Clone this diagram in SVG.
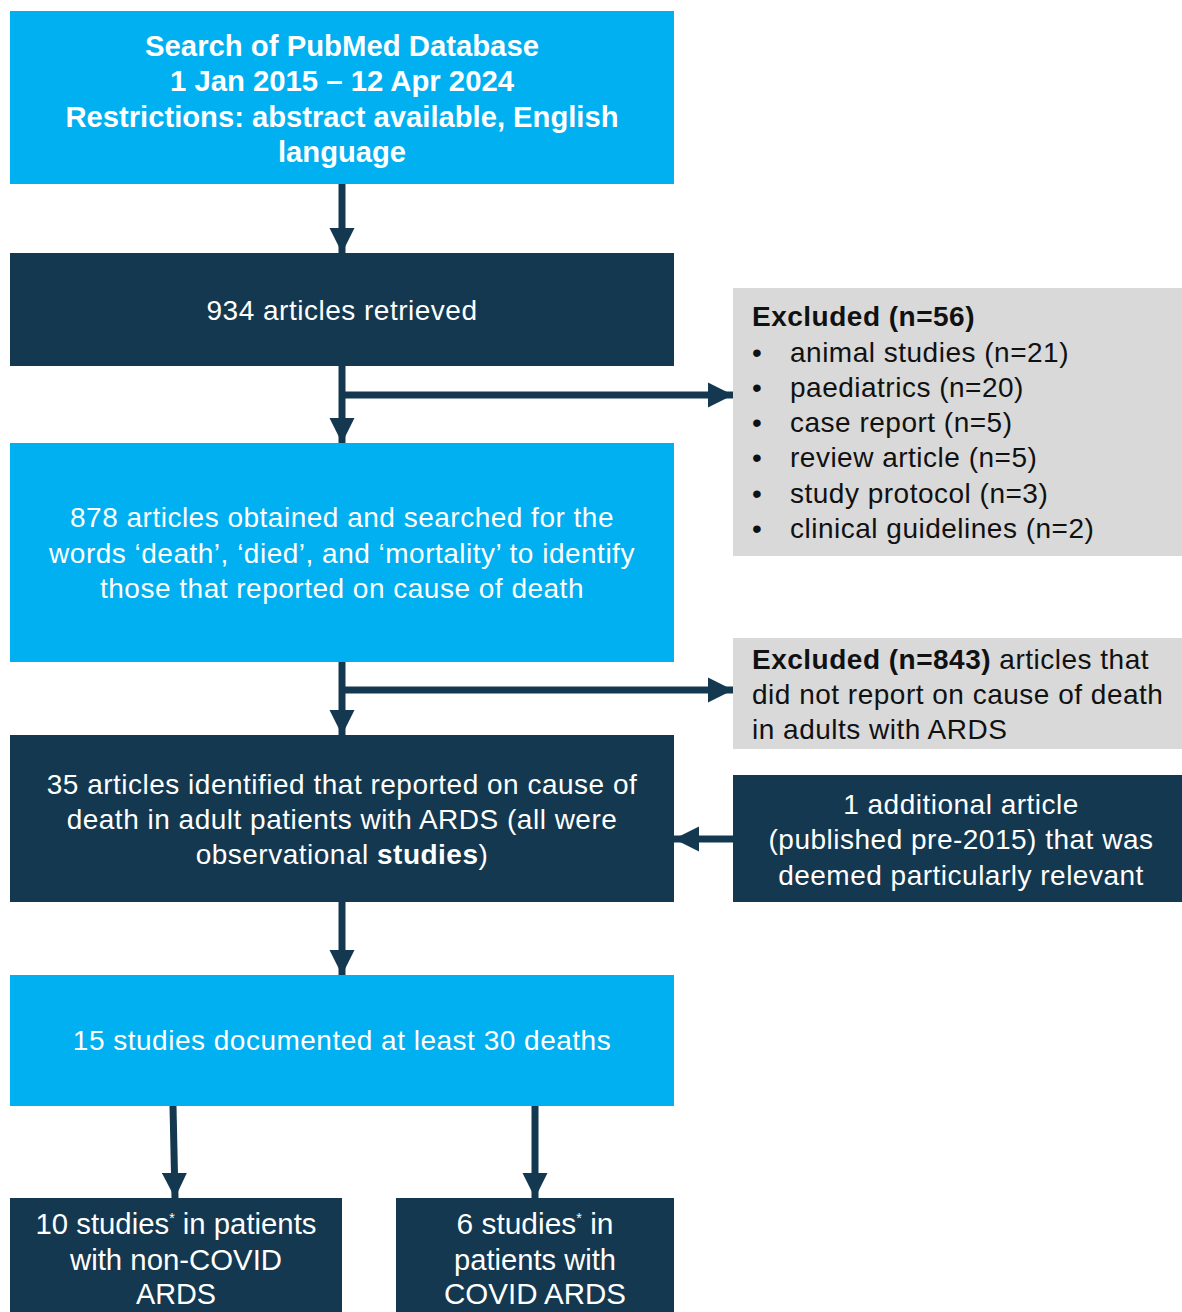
<svg xmlns="http://www.w3.org/2000/svg" width="1182" height="1312" viewBox="0 0 1182 1312">
<style>
.light{fill:#00B0F0}
.dark{fill:#13384F}
.gray{fill:#D9D9D9}
.tw{fill:#ffffff;font-family:"Liberation Sans",Arial,sans-serif;font-size:28px;letter-spacing:0.5px;text-anchor:middle}
.tn{fill:#ffffff;font-family:"Liberation Sans Narrow","Liberation Sans",Arial,sans-serif;font-size:29px;text-anchor:middle}
.tnb{fill:#ffffff;font-family:"Liberation Sans Narrow","Liberation Sans",Arial,sans-serif;font-size:29px;font-weight:bold;text-anchor:middle}
.tk{fill:#111111;font-family:"Liberation Sans",Arial,sans-serif;font-size:28px;letter-spacing:0.5px}
.b{font-weight:bold}
.conn{stroke:#13384F;stroke-width:7;fill:none}
</style>
<defs>
<marker id="ah" viewBox="0 0 10 10" refX="10" refY="5" markerWidth="3.6" markerHeight="3.6" orient="auto" markerUnits="strokeWidth">
<path d="M0,0 L10,5 L0,10 Z" fill="#13384F"/>
</marker>
</defs>

<g id="connectors">
<line class="conn" x1="342" y1="184" x2="342" y2="253" marker-end="url(#ah)"/>
<line class="conn" x1="342" y1="366" x2="342" y2="443" marker-end="url(#ah)"/>
<line class="conn" x1="339" y1="395" x2="733" y2="395" marker-end="url(#ah)"/>
<line class="conn" x1="342" y1="662" x2="342" y2="735" marker-end="url(#ah)"/>
<line class="conn" x1="339" y1="690" x2="733" y2="690" marker-end="url(#ah)"/>
<line class="conn" x1="733" y1="839" x2="674" y2="839" marker-end="url(#ah)"/>
<line class="conn" x1="342" y1="902" x2="342" y2="975" marker-end="url(#ah)"/>
<line class="conn" x1="173" y1="1106" x2="175" y2="1198" marker-end="url(#ah)"/>
<line class="conn" x1="535" y1="1106" x2="535" y2="1198" marker-end="url(#ah)"/>
</g>

<g id="search">
<rect class="light" x="10" y="11" width="664" height="173"/>
<text class="tnb" x="342" y="56" textLength="394" lengthAdjust="spacingAndGlyphs">Search of PubMed Database</text>
<text class="tnb" x="342" y="91" textLength="344" lengthAdjust="spacingAndGlyphs">1 Jan 2015 – 12 Apr 2024</text>
<text class="tnb" x="342" y="127" textLength="553" lengthAdjust="spacingAndGlyphs">Restrictions: abstract available, English</text>
<text class="tnb" x="342" y="162" textLength="128" lengthAdjust="spacingAndGlyphs">language</text>
</g>

<g id="retrieved">
<rect class="dark" x="10" y="253" width="664" height="113"/>
<text class="tw" x="342" y="320">934 articles retrieved</text>
</g>

<g id="excluded56">
<rect class="gray" x="733" y="288" width="449" height="268"/>
<text class="tk b" x="752" y="326">Excluded (n=56)</text>
<text class="tk"><tspan x="752" y="362">•</tspan><tspan x="790" y="362">animal studies (n=21)</tspan></text>
<text class="tk"><tspan x="752" y="397">•</tspan><tspan x="790" y="397">paediatrics (n=20)</tspan></text>
<text class="tk"><tspan x="752" y="432">•</tspan><tspan x="790" y="432">case report (n=5)</tspan></text>
<text class="tk"><tspan x="752" y="467">•</tspan><tspan x="790" y="467">review article (n=5)</tspan></text>
<text class="tk"><tspan x="752" y="503">•</tspan><tspan x="790" y="503">study protocol (n=3)</tspan></text>
<text class="tk"><tspan x="752" y="538">•</tspan><tspan x="790" y="538">clinical guidelines (n=2)</tspan></text>
</g>

<g id="obtained">
<rect class="light" x="10" y="443" width="664" height="219"/>
<text class="tw" x="342" y="527">878 articles obtained and searched for the</text>
<text class="tw" x="342" y="563">words ‘death’, ‘died’, and ‘mortality’ to identify</text>
<text class="tw" x="342" y="598">those that reported on cause of death</text>
</g>

<g id="excluded843">
<rect class="gray" x="733" y="638" width="449" height="111"/>
<text class="tk" x="752" y="669"><tspan class="b">Excluded (n=843)</tspan> articles that</text>
<text class="tk" x="752" y="704">did not report on cause of death</text>
<text class="tk" x="752" y="739">in adults with ARDS</text>
</g>

<g id="identified">
<rect class="dark" x="10" y="735" width="664" height="167"/>
<text class="tw" x="342" y="794">35 articles identified that reported on cause of</text>
<text class="tw" x="342" y="829">death in adult patients with ARDS (all were</text>
<text class="tw" x="342" y="864">observational <tspan class="b">studies</tspan>)</text>
</g>

<g id="additional">
<rect class="dark" x="733" y="775" width="449" height="127"/>
<text class="tw" x="961" y="814">1 additional article</text>
<text class="tw" x="961" y="849">(published pre-2015) that was</text>
<text class="tw" x="961" y="885">deemed particularly relevant</text>
</g>

<g id="documented">
<rect class="light" x="10" y="975" width="664" height="131"/>
<text class="tw" x="342" y="1050">15 studies documented at least 30 deaths</text>
</g>

<g id="noncovid">
<rect class="dark" x="10" y="1198" width="332" height="114"/>
<text class="tn" x="176" y="1234" textLength="281" lengthAdjust="spacingAndGlyphs"><tspan>10 studies</tspan><tspan font-size="14" dy="-11">*</tspan><tspan dy="11"> in patients</tspan></text>
<text class="tn" x="176" y="1270" textLength="212" lengthAdjust="spacingAndGlyphs">with non-COVID</text>
<text class="tn" x="176" y="1304" textLength="80" lengthAdjust="spacingAndGlyphs">ARDS</text>
</g>

<g id="covid">
<rect class="dark" x="396" y="1198" width="278" height="114"/>
<text class="tn" x="535" y="1234" textLength="157" lengthAdjust="spacingAndGlyphs"><tspan>6 studies</tspan><tspan font-size="14" dy="-11">*</tspan><tspan dy="11"> in</tspan></text>
<text class="tn" x="535" y="1270" textLength="162" lengthAdjust="spacingAndGlyphs">patients with</text>
<text class="tn" x="535" y="1304" textLength="182" lengthAdjust="spacingAndGlyphs">COVID ARDS</text>
</g>
</svg>
